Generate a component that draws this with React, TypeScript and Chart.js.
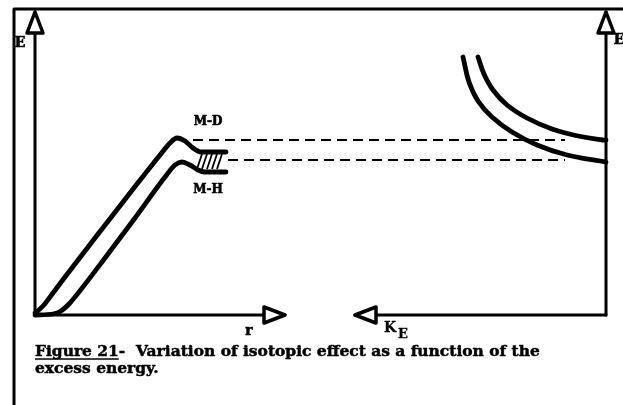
import React, { useEffect, useRef } from "react";
import { Chart, registerables } from "chart.js";

Chart.register(...registerables);

// Left panel: potential curves E(r) for the two isotopic bonds
const mdR = [0, 8, 18, 30, 60, 95, 125, 135, 142, 150, 158, 166, 191];
const mdE = [2, 9, 22, 38, 77, 122, 160, 172, 177, 174, 167, 163, 163];
const mhR = [0, 18, 26, 34, 44, 70, 100, 130, 140, 147, 155, 163, 170, 191];
const mhE = [0, 1, 4, 11, 23, 57, 97, 138, 150, 153, 150, 145, 143, 143];

// Right panel: energy vs excess energy K_E
const kHighX = [443, 449, 458, 472, 492, 517, 543, 568, 571];
const kHighE = [258, 241, 225, 210, 197, 186, 179, 175, 175];
const kLowX = [428, 434, 443, 457, 477, 502, 532, 565, 571];
const kLowE = [258, 233, 214, 198, 183, 170, 160, 154, 153];

// Zero-point levels carried across to the right panel
const levelMD = { from: 158, to: 530, e: 175 };
const levelMH = { from: 193, to: 530, e: 155 };

// Axes: [x0, y0, x1, y1]; the arrow tip sits at the second point
const axisE = [0, 0, 0, 303];
const axisR = [0, 0, 250, 0];
const axisK = [571, 0, 320, 0];
const axisE2 = [571, 0, 571, 303];

// Frame around the figure
const frameX = [-21, -21, 588];
const frameY = [-90, 306, 306];

// Hatching between the two levels at the curve ends
const hatchX = [162, 167, 172, 177, 182];
const hatchY = [146, 161];

const captionLines = [
  "Figure 21-  Variation of isotopic effect as a function of the",
  "excess energy.",
];
const CAPTION_SPAN = 505;

const pts = (xs: number[], ys: number[]) => xs.map((x, i) => ({ x, y: ys[i] }));

const ARROW_LEN = 21;
const ARROW_HALF = 8;

const font = (size: number) => `bold ${size}px "DejaVu Serif", "Liberation Serif", serif`;

// Heavy print-style text: fill plus a thin outline
const heavyText = (ctx: any, s: string, x: number, y: number, w = 0.6) => {
  ctx.lineWidth = w;
  ctx.strokeText(s, x, y);
  ctx.fillText(s, x, y);
};

const decor = {
  id: "figureDecor",
  beforeDraw(chart: any) {
    const { ctx, width, height } = chart;
    ctx.save();
    ctx.fillStyle = "#fff";
    ctx.fillRect(0, 0, width, height);
    ctx.restore();
  },
  beforeDatasetsDraw(chart: any) {
    const { ctx, scales } = chart;
    const px = (v: number) => scales.x.getPixelForValue(v);
    const py = (v: number) => scales.y.getPixelForValue(v);
    ctx.save();
    ctx.fillStyle = "#000";
    ctx.strokeStyle = "#000";
    ctx.textAlign = "center";
    ctx.textBaseline = "middle";
    ctx.font = font(14);
    heavyText(ctx, "E", px(-15), py(272));
    heavyText(ctx, "E", px(584), py(275));
    ctx.restore();
  },
  afterDatasetsDraw(chart: any) {
    const { ctx, scales } = chart;
    const px = (v: number) => scales.x.getPixelForValue(v);
    const py = (v: number) => scales.y.getPixelForValue(v);
    ctx.save();

    // arrowheads
    const arrow = (a: number[]) => {
      const x0 = px(a[0]), y0 = py(a[1]), x1 = px(a[2]), y1 = py(a[3]);
      const dx = x1 - x0, dy = y1 - y0;
      const len = Math.hypot(dx, dy);
      const ux = dx / len, uy = dy / len;
      const bx = x1 - ux * ARROW_LEN, by = y1 - uy * ARROW_LEN;
      ctx.beginPath();
      ctx.moveTo(x1, y1);
      ctx.lineTo(bx - uy * ARROW_HALF, by + ux * ARROW_HALF);
      ctx.lineTo(bx + uy * ARROW_HALF, by - ux * ARROW_HALF);
      ctx.closePath();
      ctx.fillStyle = "#fff";
      ctx.fill();
      ctx.lineWidth = 3.5;
      ctx.lineJoin = "round";
      ctx.strokeStyle = "#000";
      ctx.stroke();
    };
    [axisE, axisR, axisK, axisE2].forEach(arrow);

    // hatching
    ctx.lineWidth = 1.8;
    ctx.strokeStyle = "#000";
    hatchX.forEach((hx) => {
      ctx.beginPath();
      ctx.moveTo(px(hx), py(hatchY[0]));
      ctx.lineTo(px(hx + 5), py(hatchY[1]));
      ctx.stroke();
    });

    // labels
    ctx.fillStyle = "#000";
    ctx.textAlign = "center";
    ctx.textBaseline = "middle";
    ctx.font = font(12);
    heavyText(ctx, "M-D", px(173), py(193));
    heavyText(ctx, "M-H", px(173), py(125));
    ctx.font = font(14);
    heavyText(ctx, "r", px(214), py(-16));
    ctx.font = font(14);
    heavyText(ctx, "K", px(355), py(-13), 0.3);
    ctx.font = font(13);
    heavyText(ctx, "E", px(368), py(-20), 0.3);

    // caption, sized to its printed width
    ctx.textAlign = "left";
    ctx.font = font(14);
    const size = (14 * CAPTION_SPAN) / ctx.measureText(captionLines[0]).width;
    ctx.font = font(size);
    const cx = px(0);
    heavyText(ctx, captionLines[0], cx, py(-37), 0.5);
    heavyText(ctx, captionLines[1], cx, py(-54), 0.5);
    const w = ctx.measureText("Figure 21").width;
    ctx.lineWidth = 1.6;
    ctx.beginPath();
    ctx.moveTo(cx, py(-44));
    ctx.lineTo(cx + w, py(-44));
    ctx.stroke();

    ctx.restore();
  },
};

export default function App() {
  const ref = useRef<HTMLCanvasElement>(null);

  useEffect(() => {
    if (!ref.current) return;
    const solid = (data: any[], width: number, mode: "line" | "monotone" | "spline" = "line") => ({
      data,
      showLine: true,
      borderColor: "#000",
      borderWidth: width,
      pointRadius: 0,
      borderCapStyle: "round",
      borderJoinStyle: "round",
      cubicInterpolationMode: mode === "monotone" ? "monotone" : "default",
      tension: mode === "spline" ? 0.4 : 0,
    });
    const dashed = (lv: { from: number; to: number; e: number }) => ({
      ...solid([{ x: lv.from, y: lv.e }, { x: lv.to, y: lv.e }], 2.2),
      borderCapStyle: "butt",
      borderDash: [10, 6],
    });
    const seg = (a: number[]) => [{ x: a[0], y: a[1] }, { x: a[2], y: a[3] }];

    const chart = new Chart(ref.current, {
      type: "scatter",
      data: {
        datasets: [
          solid(pts(frameX, frameY), 3),
          solid(seg(axisE), 3),
          solid(seg(axisR), 3),
          solid(seg(axisK), 3),
          solid(seg(axisE2), 3),
          dashed(levelMD),
          dashed(levelMH),
          solid(pts(mdR, mdE), 4.8, "monotone"),
          solid(pts(mhR, mhE), 4.8, "monotone"),
          solid(pts(kHighX, kHighE), 4.8, "spline"),
          solid(pts(kLowX, kLowE), 4.8, "spline"),
        ] as any,
      },
      options: {
        animation: false,
        responsive: false,
        layout: { padding: 0 },
        plugins: { legend: { display: false }, tooltip: { enabled: false }, title: { display: false } },
        events: [],
        scales: {
          x: { type: "linear", min: -35, max: 588, display: false },
          y: { type: "linear", min: -90, max: 315, display: false },
        },
      },
      plugins: [decor],
    });
    return () => chart.destroy();
  }, []);

  return (
    <div style={{ position: "fixed", left: 0, top: 0, width: 623, height: 405, background: "#fff" }}>
      <canvas ref={ref} width={623} height={405} />
    </div>
  );
}
